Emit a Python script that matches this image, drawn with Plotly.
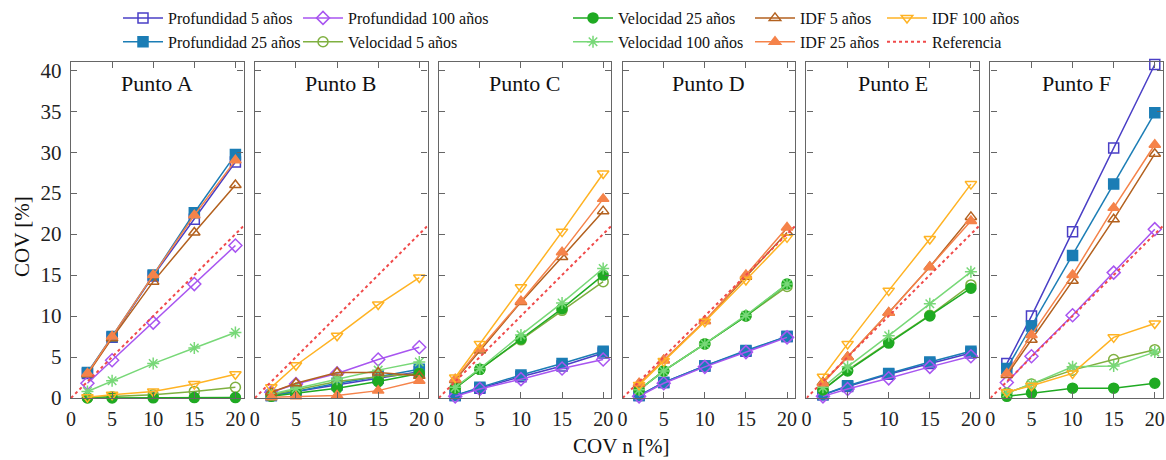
import plotly.graph_objects as go
from plotly.subplots import make_subplots

# ---------------- data ----------------
panels = ["Punto A", "Punto B", "Punto C", "Punto D", "Punto E", "Punto F"]
cov_n = [2, 5, 10, 15, 20]
x_ticks = [0, 5, 10, 15, 20]
y_ticks = [0, 5, 10, 15, 20, 25, 30, 35, 40]

# each list: one row of 5 values per panel (A..F)
prof5 = [[3.0, 7.4, 14.9, 21.8, 28.8],
         [0.3, 0.8, 1.6, 2.4, 3.2],
         [0.3, 1.2, 2.6, 3.9, 5.5],
         [0.3, 1.9, 3.9, 5.7, 7.5],
         [0.4, 1.4, 2.9, 4.2, 5.5],
         [4.2, 10.0, 20.3, 30.5, 40.7]]
prof25 = [[3.1, 7.5, 15.0, 22.6, 29.7],
          [0.3, 0.8, 1.8, 2.6, 3.5],
          [0.3, 1.3, 2.8, 4.2, 5.7],
          [0.3, 1.9, 3.9, 5.8, 7.5],
          [0.4, 1.5, 3.0, 4.4, 5.7],
          [3.6, 8.8, 17.4, 26.1, 34.8]]
prof100 = [[1.8, 4.6, 9.2, 13.9, 18.6],
           [0.7, 1.7, 3.0, 4.7, 6.2],
           [0.2, 1.1, 2.3, 3.6, 4.7],
           [0.2, 1.8, 3.8, 5.6, 7.4],
           [0.2, 1.1, 2.4, 3.8, 5.1],
           [1.9, 5.1, 10.1, 15.3, 20.6]]
vel5 = [[0.05, 0.15, 0.4, 0.8, 1.3],
        [0.4, 1.0, 2.0, 2.6, 3.0],
        [1.2, 3.5, 7.1, 10.7, 14.2],
        [1.0, 3.3, 6.6, 10.0, 13.6],
        [1.0, 3.4, 6.8, 10.1, 13.8],
        [0.6, 1.7, 3.4, 4.7, 5.9]]
vel25 = [[0.0, 0.0, 0.02, 0.05, 0.05],
         [0.2, 0.6, 1.2, 2.0, 3.0],
         [1.2, 3.5, 7.2, 10.9, 15.0],
         [1.0, 3.3, 6.6, 10.0, 13.9],
         [1.0, 3.3, 6.7, 10.0, 13.4],
         [0.2, 0.6, 1.2, 1.2, 1.8]]
vel100 = [[0.8, 2.1, 4.2, 6.1, 8.0],
          [0.5, 1.2, 2.3, 3.4, 4.4],
          [1.3, 3.6, 7.7, 11.6, 15.8],
          [1.0, 3.3, 6.6, 10.1, 13.9],
          [1.3, 3.8, 7.6, 11.5, 15.4],
          [0.6, 1.7, 3.8, 3.9, 5.6]]
idf5 = [[2.9, 7.3, 14.2, 20.2, 26.0],
        [0.7, 1.8, 3.1, 3.1, 2.7],
        [2.2, 5.8, 11.7, 17.2, 22.8],
        [1.7, 4.6, 9.4, 14.8, 20.2],
        [1.9, 5.0, 10.4, 16.0, 22.1],
        [2.8, 7.1, 14.3, 21.8, 29.8]]
idf25 = [[3.0, 7.5, 15.0, 22.3, 29.0],
         [0.1, 0.2, 0.3, 0.9, 2.1],
         [2.3, 6.0, 11.8, 17.8, 24.3],
         [1.8, 4.6, 9.4, 15.0, 20.8],
         [1.8, 5.0, 10.4, 16.0, 21.6],
         [3.0, 7.7, 15.0, 23.2, 30.9]]
idf100 = [[0.1, 0.4, 0.8, 1.7, 2.9],
          [1.3, 4.0, 7.6, 11.4, 14.7],
          [2.5, 6.6, 13.5, 20.3, 27.4],
          [1.6, 4.5, 9.3, 14.4, 19.6],
          [2.6, 6.6, 13.1, 19.4, 26.1],
          [0.7, 1.5, 3.0, 7.4, 9.1]]
ref_x = [0, 21]
ref_y = [0, 21]

series_names = ["Profundidad 5 años", "Profundidad 25 años", "Profundidad 100 años",
                "Velocidad 5 años", "Velocidad 25 años", "Velocidad 100 años",
                "IDF 5 años", "IDF 25 años", "IDF 100 años"]
series_data = [prof5, prof25, prof100, vel5, vel25, vel100, idf5, idf25, idf100]
series_colors = ["#4a3fc6", "#1b7db5", "#a855f0", "#7fb040", "#1faa22", "#78d878",
                 "#b3611f", "#f5834a", "#ffb324"]
series_symbols = ["square-open", "square", "diamond-open", "circle-open", "circle",
                  "asterisk-open", "triangle-up-open", "triangle-up", "triangle-down-open"]
ref_color = "#f04a4a"

FONT = "Liberation Serif"
L, R, T, B = 71, 3, 62, 62
W, H = 1166, 460
PW = W - L - R
PH = H - T - B

legend_ids = ["legend", "legend2", "legend3", "legend4", "legend5"]
legend_px = [118, 298, 568, 750, 882]   # left edge of each legend column, pixels

fig = make_subplots(rows=1, cols=6, shared_yaxes=False, horizontal_spacing=0.0103)

for p in range(6):
    for s in range(9):
        fig.add_trace(go.Scatter(
            x=cov_n, y=series_data[s][p], mode="lines+markers",
            name=series_names[s], legendgroup=series_names[s], showlegend=(p == 0),
            legend=legend_ids[s // 2],
            line=dict(color=series_colors[s], width=1.5),
            marker=dict(symbol=series_symbols[s], size=10, color=series_colors[s],
                        line=dict(color=series_colors[s], width=1.5)),
            cliponaxis=False,
        ), row=1, col=p + 1)
    fig.add_trace(go.Scatter(
        x=ref_x, y=ref_y, mode="lines", name="Referencia", legendgroup="ref",
        showlegend=(p == 0), legend=legend_ids[4],
        line=dict(color=ref_color, width=2, dash="dot"),
    ), row=1, col=p + 1)

for p in range(6):
    fig.update_xaxes(range=[0, 21], tickvals=x_ticks, ticks="inside", ticklen=6,
                     tickcolor="#666", showline=True, linecolor="#666", linewidth=1.4,
                     mirror="allticks", showgrid=False, zeroline=False,
                     ticklabelstandoff=3,
                     tickfont=dict(family=FONT, size=20, color="#222"),
                     row=1, col=p + 1)
    fig.update_yaxes(range=[0, 41], tickvals=y_ticks, ticks="inside", ticklen=6,
                     tickcolor="#666", showline=True, linecolor="#666", linewidth=1.4,
                     mirror="allticks", showgrid=False, zeroline=False,
                     showticklabels=(p == 0), ticklabelstandoff=4,
                     tickfont=dict(family=FONT, size=21, color="#222"),
                     row=1, col=p + 1)
    xref = "x domain" if p == 0 else f"x{p+1} domain"
    yref = "y domain" if p == 0 else f"y{p+1} domain"
    fig.add_annotation(text=panels[p], xref=xref, yref=yref, x=0.5,
                       y=1 - (83.5 - T) / PH,
                       xanchor="center", yanchor="middle", showarrow=False,
                       font=dict(family=FONT, size=22, color="#111"))

fig.add_annotation(text="COV [%]", xref="paper", yref="paper", x=(22 - L) / PW,
                   y=1 - (237 - T) / PH, xanchor="center", yanchor="middle",
                   textangle=-90, showarrow=False,
                   font=dict(family=FONT, size=21, color="#111"))
fig.add_annotation(text="COV n [%]", xref="paper", yref="paper", x=(621 - L) / PW,
                   y=1 - (446 - T) / PH, xanchor="center", yanchor="middle",
                   showarrow=False,
                   font=dict(family=FONT, size=21, color="#111"))

legend_common = dict(orientation="v", xanchor="left", yanchor="top",
                     y=1 + (T - 1) / PH, tracegroupgap=0,
                     font=dict(family=FONT, size=16, color="#111"),
                     itemwidth=40, bgcolor="rgba(0,0,0,0)")
legend_layout = {}
for i, lid in enumerate(legend_ids):
    legend_layout[lid] = dict(x=(legend_px[i] - L) / PW, **legend_common)

fig.update_layout(
    width=W, height=H,
    margin=dict(l=L, r=R, t=T, b=B, autoexpand=False),
    paper_bgcolor="white", plot_bgcolor="white",
    font=dict(family=FONT, color="#111"),
    **legend_layout,
)

fig.write_html("out.html", config={"displayModeBar": False},
               post_script="document.body.style.margin='0';")
